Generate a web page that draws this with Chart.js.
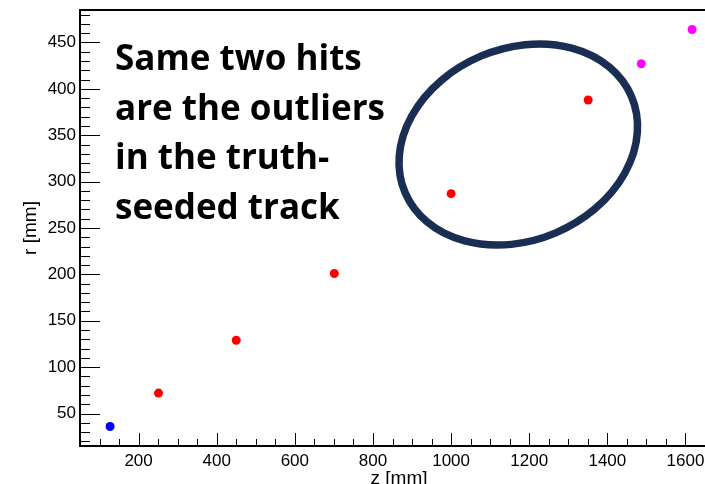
<!DOCTYPE html>
<html>
<head>
<meta charset="utf-8">
<script src="https://cdn.jsdelivr.net/npm/chart.js@4/dist/chart.umd.min.js"></script>
<style>
  html, body { margin: 0; padding: 0; background: #ffffff; overflow: hidden; }
  #wrap { width: 705px; height: 484px; }
</style>
</head>
<body>
<div id="wrap"><canvas id="c" width="705" height="484"></canvas></div>
<script>
// Hit positions (z, r) in mm
const seedZ = [127];
const seedR = [36];
const trackZ = [251, 450, 701, 1000, 1351];
const trackR = [72, 129, 201, 287, 388];
const extraZ = [1487, 1617];
const extraR = [427, 464];

// Axis ticks
const xTickValues = [200, 400, 600, 800, 1000, 1200, 1400, 1600];
const yTickValues = [50, 100, 150, 200, 250, 300, 350, 400, 450];

const xTitle = 'z [mm]';
const yTitle = 'r [mm]';
const noteLines = ['Same two hits', 'are the outliers', 'in the truth-', 'seeded track'];

const toPoints = (zs, rs) => zs.map((z, i) => ({ x: z, y: rs[i] }));

// ROOT-style frame: axis lines with ticks pointing into the plot
const framePlugin = {
  id: 'frame',
  afterDraw(chart) {
    const { ctx, chartArea: a, scales: { x, y } } = chart;
    ctx.save();
    ctx.strokeStyle = '#000';
    ctx.lineWidth = 1;
    // y ticks
    for (let v = 20; v <= 480; v += 10) {
      const py = Math.round(y.getPixelForValue(v)) + 0.5;
      const len = v % 50 === 0 ? 20 : 10;
      ctx.beginPath(); ctx.moveTo(a.left, py); ctx.lineTo(a.left + len, py); ctx.stroke();
    }
    // x ticks
    for (let v = 100; v <= 1650; v += 50) {
      const px = Math.round(x.getPixelForValue(v)) + 0.5;
      const len = v % 200 === 0 ? 13 : 7;
      ctx.beginPath(); ctx.moveTo(px, a.bottom); ctx.lineTo(px, a.bottom - len); ctx.stroke();
    }
    // frame lines
    ctx.lineWidth = 2;
    ctx.beginPath();
    ctx.moveTo(a.right + 2, a.top);
    ctx.lineTo(a.left, a.top);
    ctx.lineTo(a.left, a.bottom);
    ctx.lineTo(a.right + 2, a.bottom);
    ctx.stroke();
    // axis titles
    ctx.fillStyle = '#000';
    ctx.font = '19px "Liberation Sans", Arial, sans-serif';
    ctx.textAlign = 'center';
    ctx.textBaseline = 'alphabetic';
    ctx.fillText(xTitle, a.left + 319, 484);
    ctx.save();
    ctx.translate(36, (a.top + a.bottom) / 2);
    ctx.rotate(-Math.PI / 2);
    ctx.fillText(yTitle, 0, 0);
    ctx.restore();
    ctx.restore();
  }
};

// Annotation: ellipse around the two outlier hits and the note text
const notePlugin = {
  id: 'note',
  afterDatasetsDraw(chart) {
    const { ctx, chartArea: a, scales: { x, y } } = chart;
    ctx.save();
    const cx = x.getPixelForValue(1172);
    const cy = y.getPixelForValue(340);
    ctx.strokeStyle = '#1a2d52';
    ctx.lineWidth = 7.5;
    ctx.beginPath();
    ctx.ellipse(cx, cy, 123, 96, -23 * Math.PI / 180, 0, 2 * Math.PI);
    ctx.stroke();

    ctx.fillStyle = '#000';
    ctx.font = 'bold 35px "Open Sans", sans-serif';
    ctx.textAlign = 'left';
    ctx.textBaseline = 'alphabetic';
    noteLines.forEach((t, i) => ctx.fillText(t, a.left + 35, a.top + 60 + i * 49.7));
    ctx.restore();
  }
};

const tickFont = { family: '"Liberation Sans", Arial, sans-serif', size: 17 };

new Chart(document.getElementById('c'), {
  type: 'scatter',
  data: {
    datasets: [
      { data: toPoints(seedZ, seedR), backgroundColor: '#0000ff' },
      { data: toPoints(trackZ, trackR), backgroundColor: '#ff0000' },
      { data: toPoints(extraZ, extraR), backgroundColor: '#ff00ff' }
    ].map(d => Object.assign(d, { pointRadius: 4.5, borderWidth: 0, pointHoverRadius: 4.5 }))
  },
  options: {
    responsive: false,
    animation: false,
    devicePixelRatio: 1,
    layout: { autoPadding: false, padding: { top: 10, right: 0, bottom: 0, left: 0 } },
    plugins: { legend: { display: false }, tooltip: { enabled: false } },
    scales: {
      x: {
        type: 'linear', min: 50, max: 1650,
        afterBuildTicks(s) { s.ticks = xTickValues.map(v => ({ value: v })); },
        afterFit(s) { s.height = 38; s.paddingLeft = 0; s.paddingRight = 0; },
        grid: { display: false, drawTicks: false },
        border: { display: false },
        ticks: { font: tickFont, color: '#000', padding: 5, maxRotation: 0, autoSkip: false,
                 callback: v => String(v) }
      },
      y: {
        type: 'linear', min: 15, max: 485,
        afterBuildTicks(s) { s.ticks = yTickValues.map(v => ({ value: v })); },
        afterFit(s) { s.width = 80; s.paddingTop = 0; s.paddingBottom = 0; },
        grid: { display: false, drawTicks: false },
        border: { display: false },
        ticks: { font: tickFont, color: '#000', padding: 4, autoSkip: false,
                 callback: v => String(v) }
      }
    }
  },
  plugins: [notePlugin, framePlugin]
});
</script>
</body>
</html>
